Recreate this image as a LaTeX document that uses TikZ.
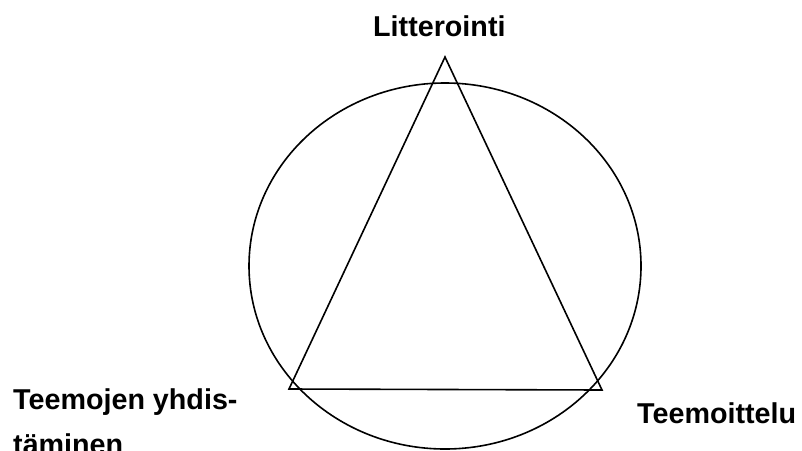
\documentclass[tikz,border=0pt]{standalone}
\usepackage{fontspec}
\setmainfont{Liberation Sans}
\begin{document}
\begin{tikzpicture}[x=1pt,y=-1pt,
  lbl/.style={font=\fontsize{28.7}{34}\selectfont\bfseries, inner sep=0pt, anchor=base west},
  shapeline/.style={draw=black, line width=1.6pt}]
\useasboundingbox (0,0) rectangle (802,450);
\draw[shapeline] (445,266) ellipse [x radius=196, y radius=183];
\coordinate (top) at (445,57);
\coordinate (bl) at (289,389);
\coordinate (br) at (602,390);
\draw[shapeline, line join=miter] (top) -- (br) -- (bl) -- cycle;
\node[lbl] (lit) at (373,36) {Litterointi};
\node[lbl] (tm) at (637,423) {Teemoittelu};
\node[lbl] (ty1) at (13,409) {Teemojen yhdis-};
\node[lbl] (ty2) at (13,454) {täminen};
\end{tikzpicture}
\end{document}
